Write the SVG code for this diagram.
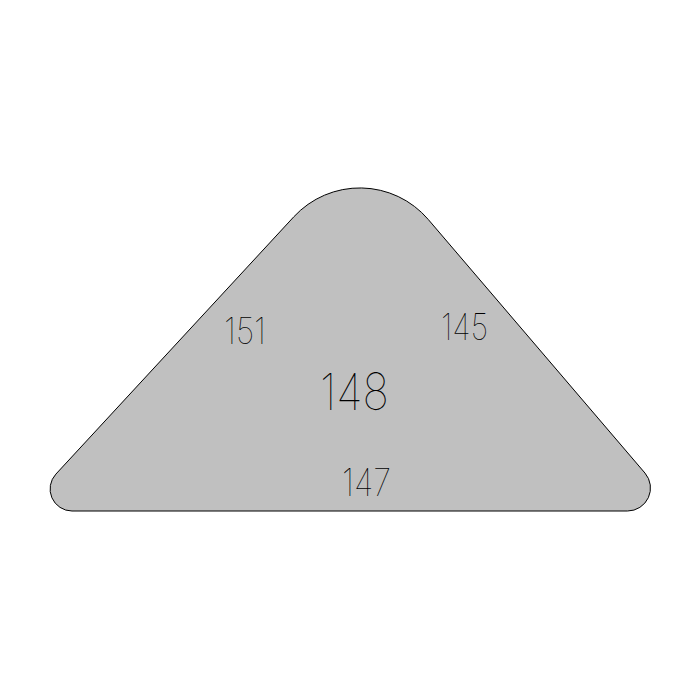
<svg xmlns="http://www.w3.org/2000/svg" width="700" height="700" viewBox="0 0 700 700">
<style>
.shape{fill:#c0c0c0;stroke:#000;stroke-width:1}
.lbl{font-family:Inter,"DejaVu Sans",sans-serif;font-weight:100;fill:#000}
</style>
<rect width="700" height="700" fill="#fff"/>
<g id="region">
<path class="shape" d="M 72 511 L 627.5 511 A 23 23 0 0 0 645 473.1 L 428.2 219.4 A 90 90 0 0 0 293.8 216.8 L 55.9 474.1 A 22 22 0 0 0 72 511 Z"/>
</g>
<g id="labels">
<text id="t151" class="lbl" x="224" y="344" font-size="36" textLength="42" lengthAdjust="spacingAndGlyphs">151</text>
<text id="t145" class="lbl" x="441" y="340" font-size="37" textLength="47" lengthAdjust="spacingAndGlyphs">145</text>
<text id="t148" class="lbl" x="320" y="410" font-size="51" textLength="69" lengthAdjust="spacingAndGlyphs">148</text>
<text id="t147" class="lbl" x="342" y="496" font-size="38" textLength="49" lengthAdjust="spacingAndGlyphs">147</text>
</g>
<g id="connectors"></g>
</svg>
